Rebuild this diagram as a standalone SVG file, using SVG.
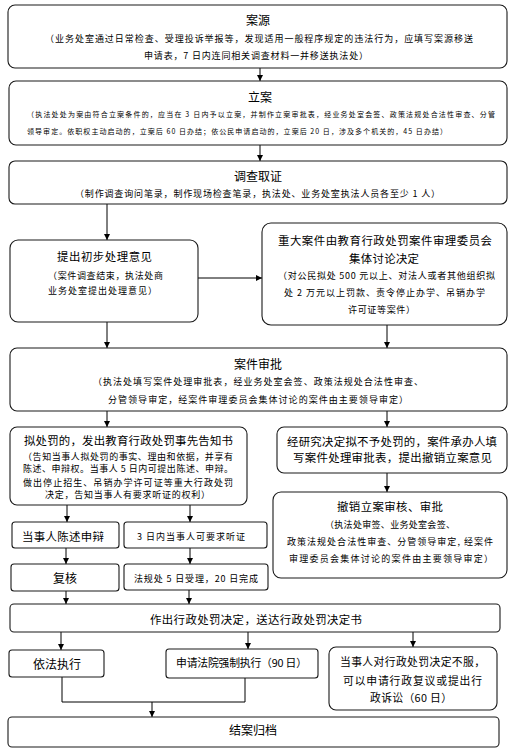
<svg xmlns="http://www.w3.org/2000/svg" width="514" height="752" viewBox="0 0 514 752">
<defs>
<marker id="ah" viewBox="0 0 10 10" refX="10" refY="5" markerWidth="6" markerHeight="6" orient="auto" markerUnits="userSpaceOnUse">
<path d="M0,0 L10,5 L0,10 z" fill="#000"/>
</marker>
<style>
.b{fill:#fff;stroke:#1a1a1a;stroke-width:1.1}
.t{font-family:"Noto Sans CJK SC","Noto Sans",sans-serif;fill:#000;font-size:12px}
.m{font-family:"Noto Sans CJK SC","Noto Sans",sans-serif;fill:#000;font-size:11.4px}
.n{font-family:"Noto Sans CJK SC","Noto Sans",sans-serif;fill:#000;font-size:10.8px}
.s{font-family:"Noto Sans CJK SC","Noto Sans",sans-serif;fill:#000;font-size:9px}
.xs{font-family:"Noto Sans CJK SC","Noto Sans",sans-serif;fill:#000;font-size:7px}
.c{text-anchor:middle}
.l{fill:none;stroke:#000;stroke-width:1}
</style>
</defs>
<rect width="514" height="752" fill="#fff"/>

<g id="connectors">
<line class="l" x1="260" y1="68" x2="260" y2="81" marker-end="url(#ah)"/>
<line class="l" x1="260" y1="145" x2="260" y2="161" marker-end="url(#ah)"/>
<line class="l" x1="107" y1="204" x2="107" y2="240" marker-end="url(#ah)"/>
<line class="l" x1="198" y1="278" x2="262" y2="278" marker-end="url(#ah)"/>
<line class="l" x1="107" y1="322" x2="107" y2="348" marker-end="url(#ah)"/>
<line class="l" x1="387" y1="325" x2="387" y2="348" marker-end="url(#ah)"/>
<line class="l" x1="107" y1="411" x2="107" y2="427" marker-end="url(#ah)"/>
<line class="l" x1="387" y1="411" x2="387" y2="427" marker-end="url(#ah)"/>
<line class="l" x1="387" y1="473" x2="387" y2="492" marker-end="url(#ah)"/>
<line class="l" x1="67" y1="505" x2="67" y2="522" marker-end="url(#ah)"/>
<line class="l" x1="190" y1="505" x2="190" y2="522" marker-end="url(#ah)"/>
<line class="l" x1="66" y1="548" x2="66" y2="564" marker-end="url(#ah)"/>
<line class="l" x1="190" y1="548" x2="190" y2="564" marker-end="url(#ah)"/>
<line class="l" x1="66" y1="591" x2="66" y2="604" marker-end="url(#ah)"/>
<line class="l" x1="189" y1="590" x2="189" y2="604" marker-end="url(#ah)"/>
<line class="l" x1="61" y1="632" x2="61" y2="650" marker-end="url(#ah)"/>
<line class="l" x1="248" y1="632" x2="248" y2="649" marker-end="url(#ah)"/>
<line class="l" x1="413" y1="632" x2="413" y2="647" marker-end="url(#ah)"/>
<polyline class="l" points="62,677 62,702 245,702 245,678"/>
<line class="l" x1="152" y1="702" x2="152" y2="717" marker-end="url(#ah)"/>
</g>

<g id="n1">
<rect class="b" x="8" y="5" width="499" height="63" rx="7"/>
<text class="t c" x="258" y="25.3">案源</text>
<text class="s" x="45" y="41.8" textLength="428" lengthAdjust="spacing">（业务处室通过日常检查、受理投诉举报等，发现适用一般程序规定的违法行为，应填写案源移送</text>
<text class="s" x="144" y="58.5" textLength="224" lengthAdjust="spacing">申请表，7 日内连同相关调查材料一并移送执法处）</text>
</g>

<g id="n2">
<rect class="b" x="9" y="81" width="498" height="64" rx="7"/>
<text class="t c" x="260" y="101.6">立案</text>
<text class="xs" x="27" y="116.6" textLength="468" lengthAdjust="spacing">（执法处处为案由符合立案条件的，应当在 3 日内予以立案，并制作立案审批表，经业务处室会签、政策法规处合法性审查、分管</text>
<text class="xs" x="27" y="133.8" textLength="420" lengthAdjust="spacing">领导审定。依职权主动启动的，立案后 60 日办结；依公民申请启动的，立案后 20 日，涉及多个机关的，45 日办结）</text>
</g>

<g id="n3">
<rect class="b" x="9" y="161" width="498" height="43" rx="6"/>
<text class="t c" x="258" y="181.3">调查取证</text>
<text class="s" x="75" y="196.8" textLength="365" lengthAdjust="spacing">（制作调查询问笔录，制作现场检查笔录，执法处、业务处室执法人员各至少 1 人）</text>
</g>

<g id="n4">
<rect class="b" x="10" y="240" width="188" height="82" rx="8"/>
<text class="m" x="57" y="261.3" textLength="95" lengthAdjust="spacing">提出初步处理意见</text>
<text class="s" x="48" y="278.5" textLength="115" lengthAdjust="spacing">（案件调查结束，执法处商</text>
<text class="s" x="48" y="293.5" textLength="109" lengthAdjust="spacing">业务处室提出处理意见）</text>
</g>

<g id="n5">
<rect class="b" x="262" y="223" width="245" height="102" rx="9"/>
<text class="m" x="278" y="244.6" textLength="214" lengthAdjust="spacing">重大案件由教育行政处罚案件审理委员会</text>
<text class="m" x="349" y="263" textLength="70" lengthAdjust="spacing">集体讨论决定</text>
<text class="s" x="278" y="278.5" textLength="217" lengthAdjust="spacing">（对公民拟处 500 元以上、对法人或者其他组织拟</text>
<text class="s" x="284" y="296.2" textLength="201" lengthAdjust="spacing">处 2 万元以上罚款、责令停止办学、吊销办学</text>
<text class="s" x="348" y="312.5" textLength="67" lengthAdjust="spacing">许可证等案件）</text>
</g>

<g id="n6">
<rect class="b" x="10" y="348" width="497" height="63" rx="7"/>
<text class="t c" x="258" y="368.6">案件审批</text>
<text class="s" x="93" y="385.2" textLength="330" lengthAdjust="spacing">（执法处填写案件处理审批表，经业务处室会签、政策法规处合法性审查、</text>
<text class="s" x="108" y="402.9" textLength="300" lengthAdjust="spacing">分管领导审定，经案件审理委员会集体讨论的案件由主要领导审定）</text>
</g>

<g id="n7">
<rect class="b" x="10" y="427" width="237" height="78" rx="7"/>
<text class="m" x="24" y="444.6" textLength="209" lengthAdjust="spacing">拟处罚的，发出教育行政处罚事先告知书</text>
<text class="s" x="23" y="459.5" textLength="210" lengthAdjust="spacing">（告知当事人拟处罚的事实、理由和依据，并享有</text>
<text class="s" x="23" y="471.9" textLength="210" lengthAdjust="spacing">陈述、申辩权。当事人 5 日内可提出陈述、申辩。</text>
<text class="s" x="23" y="485.9" textLength="210" lengthAdjust="spacing">做出停止招生、吊销办学许可证等重大行政处罚</text>
<text class="s" x="45" y="497.9" textLength="165" lengthAdjust="spacing">决定，告知当事人有要求听证的权利）</text>
</g>

<g id="n8">
<rect class="b" x="277" y="427" width="230" height="46" rx="7"/>
<text class="m" x="287" y="446.3" textLength="210" lengthAdjust="spacing">经研究决定拟不予处罚的，案件承办人填</text>
<text class="m" x="293" y="462.3" textLength="199" lengthAdjust="spacing">写案件处理审批表，提出撤销立案意见</text>
</g>

<g id="n9">
<rect class="b" x="273" y="492" width="234" height="86" rx="8"/>
<text class="m" x="337" y="511.3" textLength="106" lengthAdjust="spacing">撤销立案审核、审批</text>
<text class="s" x="325" y="527.8" textLength="130" lengthAdjust="spacing">（执法处审签、业务处室会签、</text>
<text class="s" x="287" y="545.2" textLength="206" lengthAdjust="spacing">政策法规处合法性审查、分管领导审定, 经案件</text>
<text class="s" x="289" y="561.8" textLength="204" lengthAdjust="spacing">审理委员会集体讨论的案件由主要领导审定）</text>
</g>

<g id="n10">
<rect class="b" x="12" y="522" width="107" height="26" rx="3"/>
<text class="m" x="22" y="541.3" textLength="82" lengthAdjust="spacing">当事人陈述申辩</text>
</g>

<g id="n11">
<rect class="b" x="124" y="522" width="143" height="26" rx="3"/>
<text class="s" x="137" y="540.2" textLength="108" lengthAdjust="spacing">3 日内当事人可要求听证</text>
</g>

<g id="n12">
<rect class="b" x="11" y="564" width="108" height="27" rx="3"/>
<text class="t c" x="65" y="583">复核</text>
</g>

<g id="n13">
<rect class="b" x="124" y="564" width="144" height="26" rx="3"/>
<text class="s" x="134" y="581.9" textLength="124" lengthAdjust="spacing">法规处 5 日受理，20 日完成</text>
</g>

<g id="n14">
<rect class="b" x="10" y="604" width="490" height="28" rx="4"/>
<text class="m" x="150" y="623.6" textLength="212" lengthAdjust="spacing">作出行政处罚决定，送达行政处罚决定书</text>
</g>

<g id="n15">
<rect class="b" x="9" y="650" width="95" height="27" rx="3"/>
<text class="t c" x="57" y="668.6">依法执行</text>
</g>

<g id="n16">
<rect class="b" x="166" y="649" width="152" height="29" rx="3"/>
<text class="n" x="176" y="667.3" textLength="131" lengthAdjust="spacing">申请法院强制执行（90 日）</text>
</g>

<g id="n17">
<rect class="b" x="329" y="647" width="168" height="63" rx="7"/>
<text class="n" x="340" y="666.3" textLength="145" lengthAdjust="spacing">当事人对行政处罚决定不服，</text>
<text class="n" x="343" y="684.6" textLength="139" lengthAdjust="spacing">可以申请行政复议或提出行</text>
<text class="n" x="370" y="702" textLength="82" lengthAdjust="spacing">政诉讼（60 日）</text>
</g>

<g id="n18">
<rect class="b" x="8" y="717" width="491" height="30" rx="4"/>
<text class="t c" x="253" y="734.6">结案归档</text>
</g>
</svg>
